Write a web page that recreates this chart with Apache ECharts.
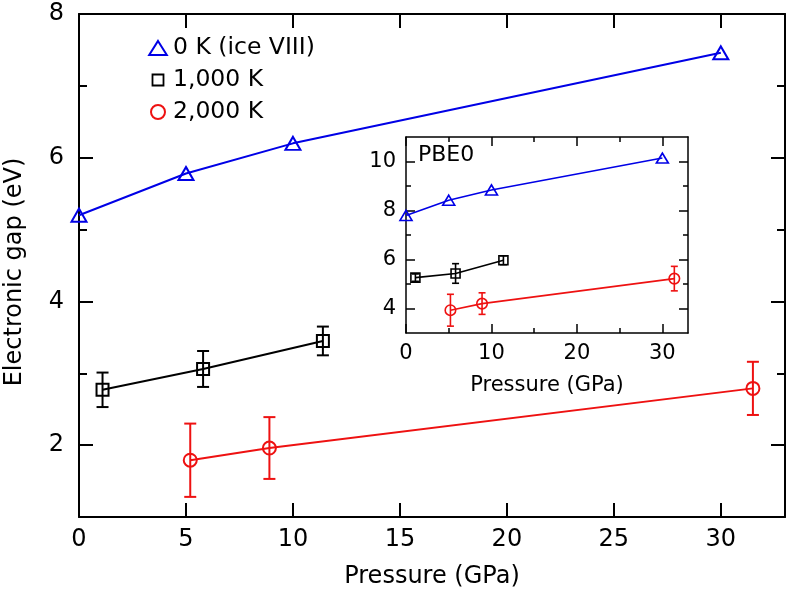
<!DOCTYPE html>
<html><head><meta charset="utf-8">
<script src="https://cdn.jsdelivr.net/npm/echarts@6/dist/echarts.min.js"></script>
<style>html,body{margin:0;padding:0;background:#fff}#c{width:788px;height:590px}</style>
</head><body><div id="c"></div>
<script>
// ---- data ----
const seriesNames = ['0 K (ice VIII)', '1,000 K', '2,000 K'];
const xTitle = 'Pressure (GPa)';
const yTitle = 'Electronic gap (eV)';
const insetLabel = 'PBE0';

const mainBlueX = [0, 5, 10, 30];
const mainBlueY = [5.20, 5.78, 6.20, 7.46];
const mainBlackX = [1.1, 5.8, 11.4];
const mainBlackY = [2.77, 3.06, 3.45];
const mainBlackErr = [0.24, 0.25, 0.20];
const mainRedX = [5.2, 8.9, 31.5];
const mainRedY = [1.79, 1.96, 2.79];
const mainRedErr = [0.51, 0.43, 0.37];

const insetBlueX = [0, 5, 10, 30];
const insetBlueY = [7.80, 8.42, 8.84, 10.14];
const insetBlackX = [1.1, 5.8, 11.4];
const insetBlackY = [5.26, 5.43, 5.97];
const insetBlackErr = [0.15, 0.40, 0.18];
const insetRedX = [5.2, 8.9, 31.4];
const insetRedY = [3.93, 4.20, 5.22];
const insetRedErr = [0.65, 0.44, 0.50];

const mainXTicks = [0, 5, 10, 15, 20, 25, 30];
const mainYTicks = [2, 4, 6, 8];
const mainYMinor = [3, 5, 7];
const insetXTicks = [0, 10, 20, 30];
const insetXMinor = [5, 15, 25];
const insetYTicks = [4, 6, 8, 10];
const insetYMinor = [5, 7, 9];

// ---- styling ----
const FONT = '"DejaVu Sans", "Liberation Sans", Arial, sans-serif';
const BLUE = '#0000e6', RED = '#ee1111', BLACK = '#000000';

function pairs(xs, ys) { return xs.map((x, i) => [x, ys[i]]); }
function triples(xs, ys, es) { return xs.map((x, i) => [x, ys[i], es[i]]); }

function ax(gridIndex, pos, min, max, interval, o) {
  return Object.assign({
    gridIndex, type: 'value', position: pos, min, max, interval,
    axisLine: { show: !!o.line, onZero: false, lineStyle: { color: '#000', width: o.lw || 2 } },
    axisTick: { show: true, inside: true, length: o.tl, customValues: o.ticks, lineStyle: { color: '#000', width: o.lw || 2 } },
    axisLabel: o.labels ? { show: true, customValues: o.labels, fontSize: o.fs, color: '#000', fontFamily: FONT, margin: o.margin } : { show: false },
    splitLine: { show: false },
    axisPointer: { show: false }
  }, o.extra || {});
}

const xAxes = [
  ax(0, 'bottom', 0, 33, 5, { line: true, tl: 14, ticks: mainXTicks, labels: mainXTicks, fs: 24, margin: 11,
    extra: { name: xTitle, nameLocation: 'middle', nameGap: 48, nameTextStyle: { fontSize: 24, color: '#000', fontFamily: FONT } } }),
  ax(0, 'top', 0, 33, 5, { line: true, tl: 14, ticks: mainXTicks }),
  ax(1, 'bottom', 0, 33, 5, { line: true, lw: 1.5, tl: 9, ticks: insetXTicks, labels: insetXTicks, fs: 21, margin: 10,
    extra: { name: xTitle, nameLocation: 'middle', nameGap: 42, nameTextStyle: { fontSize: 21, color: '#000', fontFamily: FONT } } }),
  ax(1, 'bottom', 0, 33, 5, { line: false, lw: 1.5, tl: 5, ticks: insetXMinor }),
  ax(1, 'top', 0, 33, 5, { line: true, lw: 1.5, tl: 9, ticks: insetXTicks }),
  ax(1, 'top', 0, 33, 5, { line: false, lw: 1.5, tl: 5, ticks: insetXMinor })
];
const yAxes = [
  ax(0, 'left', 1, 8, 1, { line: true, tl: 14, ticks: mainYTicks, labels: mainYTicks, fs: 24, margin: 15,
    extra: { name: yTitle, nameLocation: 'middle', nameGap: 52,
      nameTextStyle: { fontSize: 24, color: '#000', fontFamily: FONT, padding: [0, 13, 0, 0] } } }),
  ax(0, 'left', 1, 8, 1, { line: false, tl: 8, ticks: mainYMinor }),
  ax(0, 'right', 1, 8, 1, { line: true, tl: 14, ticks: mainYTicks }),
  ax(0, 'right', 1, 8, 1, { line: false, tl: 8, ticks: mainYMinor }),
  ax(1, 'left', 3, 11, 1, { line: true, lw: 1.5, tl: 9, ticks: insetYTicks, labels: insetYTicks, fs: 21, margin: 10 }),
  ax(1, 'left', 3, 11, 1, { line: false, lw: 1.5, tl: 5, ticks: insetYMinor }),
  ax(1, 'right', 3, 11, 1, { line: true, lw: 1.5, tl: 9, ticks: insetYTicks }),
  ax(1, 'right', 3, 11, 1, { line: false, lw: 1.5, tl: 5, ticks: insetYMinor })
];

function lineSeries(name, data, xi, yi, color, symbol, size, lw) {
  return {
    name, type: 'line', data, xAxisIndex: xi, yAxisIndex: yi, clip: false,
    symbol, symbolSize: size, showSymbol: true,
    lineStyle: { color, width: lw },
    itemStyle: { color: 'transparent', borderColor: color, borderWidth: lw },
    emphasis: { disabled: true }, z: 3, animation: false
  };
}
function errSeries(data, xi, yi, color, capHalf, lw) {
  return {
    type: 'custom', data, xAxisIndex: xi, yAxisIndex: yi, clip: false, z: 2,
    encode: { x: 0, y: 1 }, silent: true, animation: false,
    renderItem: function (params, api) {
      const x = api.value(0), y = api.value(1), e = api.value(2);
      const t = api.coord([x, y + e]), b = api.coord([x, y - e]);
      const style = { stroke: color, lineWidth: lw, fill: null };
      return { type: 'group', children: [
        { type: 'line', shape: { x1: t[0], y1: t[1], x2: b[0], y2: b[1] }, style },
        { type: 'line', shape: { x1: t[0] - capHalf, y1: t[1], x2: t[0] + capHalf, y2: t[1] }, style },
        { type: 'line', shape: { x1: b[0] - capHalf, y1: b[1], x2: b[0] + capHalf, y2: b[1] }, style }
      ] };
    }
  };
}

const triIcon = 'path://M0,0M20,16M10,1L18.8,15L1.2,15Z';
const sqIcon = 'path://M0,0M20,16M4.5,2.5L15.5,2.5L15.5,13.5L4.5,13.5Z';
const cirIcon = 'path://M0,0M20,16M3,8A7,7 0 1,1 17,8A7,7 0 1,1 3,8Z';

const option = {
  backgroundColor: '#fff',
  animation: false,
  grid: [
    { left: 79, top: 14, right: 3, bottom: 73, containLabel: false, outerBoundsMode: 'none', show: false },
    { left: 406, top: 137, width: 282, height: 196, outerBoundsMode: 'none', show: true, backgroundColor: '#fff', borderWidth: 0 }
  ],
  xAxis: xAxes,
  yAxis: yAxes,
  legend: {
    orient: 'vertical', left: 147, top: 36, padding: 0, itemGap: 8,
    itemWidth: 20, itemHeight: 16, selectedMode: false,
    textStyle: { fontSize: 23.5, color: '#000', fontFamily: FONT },
    data: [
      { name: seriesNames[0], icon: triIcon, itemStyle: { color: 'transparent', borderColor: BLUE, borderWidth: 2 } },
      { name: seriesNames[1], icon: sqIcon, itemStyle: { color: 'transparent', borderColor: BLACK, borderWidth: 1.8 } },
      { name: seriesNames[2], icon: cirIcon, itemStyle: { color: 'transparent', borderColor: RED, borderWidth: 2 } }
    ]
  },
  graphic: [
    { type: 'text', left: 418, top: 144, z: 100,
      style: { text: insetLabel, fontSize: 22, fontFamily: FONT, fill: '#000' } }
  ],
  series: [
    errSeries(triples(mainBlackX, mainBlackY, mainBlackErr), 0, 0, BLACK, 6, 2),
    errSeries(triples(mainRedX, mainRedY, mainRedErr), 0, 0, RED, 6, 2),
    lineSeries(seriesNames[0], pairs(mainBlueX, mainBlueY), 0, 0, BLUE, 'triangle', [15, 13], 2),
    lineSeries(seriesNames[1], pairs(mainBlackX, mainBlackY), 0, 0, BLACK, 'rect', [12, 12], 2),
    lineSeries(seriesNames[2], pairs(mainRedX, mainRedY), 0, 0, RED, 'circle', 13, 2),
    errSeries(triples(insetBlackX, insetBlackY, insetBlackErr), 2, 4, BLACK, 3.5, 1.6),
    errSeries(triples(insetRedX, insetRedY, insetRedErr), 2, 4, RED, 3.5, 1.6),
    lineSeries('inset ' + seriesNames[0], pairs(insetBlueX, insetBlueY), 2, 4, BLUE, 'triangle', [12, 10], 1.6),
    lineSeries('inset ' + seriesNames[1], pairs(insetBlackX, insetBlackY), 2, 4, BLACK, 'rect', [9, 9], 1.6),
    lineSeries('inset ' + seriesNames[2], pairs(insetRedX, insetRedY), 2, 4, RED, 'circle', 10.5, 1.6)
  ]
};

const chart = echarts.init(document.getElementById('c'), null, { renderer: 'canvas' });
chart.setOption(option);
</script>
</body></html>
